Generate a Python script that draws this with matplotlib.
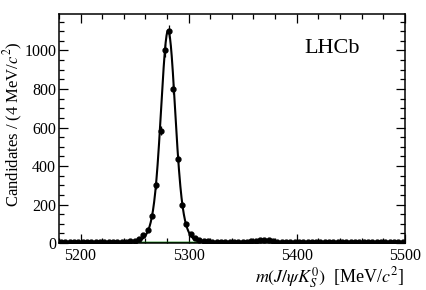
import numpy as np
import matplotlib
matplotlib.use("Agg")
import matplotlib.pyplot as plt
from matplotlib.ticker import MultipleLocator

plt.rcParams['font.family'] = ['Liberation Serif', 'DejaVu Serif']
plt.rcParams['mathtext.fontset'] = 'stix'

# bin centres, 4 MeV bins from 5180 to 5500
mass = np.arange(5182, 5500, 4)

# candidates per bin
counts = [4, 3, 5, 4, 3, 4, 5, 3, 4, 4,
          3, 5, 4, 3, 4, 5, 8, 12, 22, 42,
          70, 140, 300, 583, 1000, 1100, 800, 437, 197, 100,
          45, 28, 16, 10, 8, 6, 5, 4, 5, 4,
          3, 4, 5, 6, 8, 12, 15, 17, 14, 10,
          7, 5, 4, 4, 5, 3, 4, 4, 3, 5,
          4, 3, 4, 4, 5, 3, 4, 4, 3, 4,
          5, 3, 4, 4, 3, 4, 4, 3, 4, 4]
counts = np.array(counts)

# fit result (per 4 MeV bin)
b0_mean = 5281.0
core_sigma, core_amp = 6.0, 800.0
wide_sigma, wide_amp = 10.0, 300.0
bs_mean = 5368.0
bs_amp = 12.0
bkg_level = 3.5

m = np.linspace(5180, 5500, 1200)
def dgauss(x, mu, ac, aw):
    return ac*np.exp(-(x-mu)**2/(2*core_sigma**2)) + aw*np.exp(-(x-mu)**2/(2*wide_sigma**2))

bkg = np.full_like(m, bkg_level)
total = bkg + dgauss(m, b0_mean, core_amp, wide_amp) + dgauss(m, bs_mean, bs_amp*0.7, bs_amp*0.3)

fig = plt.figure(figsize=(4.27, 2.90), dpi=100)
ax = fig.add_axes([0.138, 0.162, 0.81, 0.79])

ax.plot(m, bkg, color='#008000', lw=1.0)
ax.plot(m, total, color='black', lw=1.5)
ax.errorbar(mass, counts, yerr=np.sqrt(counts), fmt='o', color='black',
            ms=3.5, elinewidth=0.9, capsize=0)

ax.set_xlim(5180, 5500)
ax.set_ylim(0, 1190)
ax.xaxis.set_major_locator(MultipleLocator(100))
ax.xaxis.set_minor_locator(MultipleLocator(20))
ax.yaxis.set_major_locator(MultipleLocator(200))
ax.yaxis.set_minor_locator(MultipleLocator(50))
ax.tick_params(which='both', direction='in', top=True, right=True, labelsize=11.5, width=0.9)
ax.tick_params(which='major', length=6.5)
ax.tick_params(which='minor', length=3.5)
ax.tick_params(axis='y', pad=2)
for s in ax.spines.values():
    s.set_linewidth(1.1)

ax.set_ylabel(r'Candidates / (4 MeV/$c^2$)', fontsize=12)
ax.yaxis.set_label_coords(-0.098, 0.52)
ax.set_xlabel(r'$m(J/\psi K^{0}_{S})$  [MeV/$c^2$]', fontsize=13, loc='right', labelpad=1)
ax.text(0.87, 0.85, 'LHCb', transform=ax.transAxes, fontsize=16, ha='right', va='center')

fig.savefig('out.png', dpi=100)
